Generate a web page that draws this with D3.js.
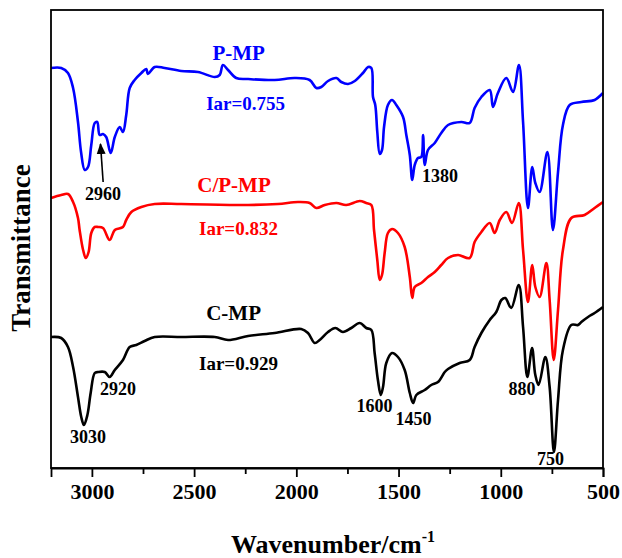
<!DOCTYPE html>
<html>
<head>
<meta charset="utf-8">
<script src="https://cdn.jsdelivr.net/npm/d3@7"></script>
<style>
  body { margin: 0; background: #fff; }
  svg text { font-family: "Liberation Serif", "Times New Roman", serif; font-weight: bold; }
</style>
</head>
<body>
<svg id="chart" width="622" height="558"></svg>
<script>
const margin = {top: 10, right: 19, bottom: 90, left: 51};

// [wavenumber, transmittance (a.u., offset stacked)]
const pmp = [
  [3200,40.0],[3150,40.0],[3117,39.5],[3092,38.0],[3068,34.6],[3053,31.6],[3035,29.8],[3019,30.1],
  [3003,32.3],[2986,34.5],[2974,34.6],[2962,33.3],[2946,33.4],[2930,33.1],[2908,31.5],[2888,33.1],
  [2864,34.1],[2848,33.6],[2832,35.3],[2815,38.0],[2791,38.8],[2758,39.5],[2734,39.9],[2726,39.4],
  [2693,40.1],[2644,40.0],[2563,39.7],[2481,39.6],[2399,39.1],[2375,39.3],[2359,40.3],[2334,39.8],
  [2294,39.0],[2236,38.9],[2106,38.8],[2008,39.0],[1935,38.8],[1902,38.0],[1878,38.1],[1845,38.7],
  [1804,39.0],[1780,38.6],[1747,38.4],[1714,38.7],[1674,39.5],[1649,40.1],[1633,40.0],[1625,37.1],
  [1614,36.3],[1604,33.6],[1592,31.4],[1581,31.8],[1571,34.1],[1552,36.3],[1532,36.8],[1511,36.3],
  [1478,35.1],[1462,33.3],[1445,31.3],[1433,28.8],[1421,30.3],[1405,31.0],[1389,31.1],[1380,33.3],
  [1372,30.3],[1356,31.8],[1323,32.5],[1291,33.5],[1258,34.3],[1193,34.6],[1152,34.5],[1128,36.0],
  [1095,37.1],[1054,37.8],[1038,36.1],[1014,37.5],[973,39.0],[940,37.6],[911,40.3],[891,34.6],
  [867,26.0],[846,30.1],[831,28.5],[810,27.6],[772,31.6],[745,23.8],[720,29.6],[696,34.3],
  [663,36.3],[606,36.6],[541,36.8],[500,37.5]
];

const cpmp = [
  [3200,27.0],[3150,27.3],[3117,27.4],[3092,26.6],[3068,25.0],[3060,23.8],[3043,21.8],[3030,21.0],
  [3016,21.6],[3003,23.5],[2986,24.1],[2970,24.1],[2946,24.0],[2913,22.8],[2888,23.8],[2848,24.1],
  [2832,24.8],[2807,25.6],[2758,26.1],[2693,26.4],[2563,26.4],[2236,26.3],[2090,26.4],[1992,26.6],
  [1935,26.5],[1902,26.0],[1861,26.3],[1804,26.5],[1756,26.3],[1690,26.7],[1658,26.5],[1633,26.3],
  [1620,23.8],[1604,20.8],[1592,18.8],[1581,19.3],[1568,21.5],[1552,23.5],[1532,23.9],[1503,23.5],
  [1470,22.1],[1445,19.1],[1433,17.0],[1421,18.1],[1389,18.5],[1356,19.1],[1323,19.6],[1291,20.3],
  [1258,21.0],[1209,21.3],[1152,21.0],[1128,22.6],[1095,23.6],[1054,24.5],[1030,23.5],[1005,24.8],
  [973,25.6],[945,24.5],[912,26.5],[891,21.8],[867,16.6],[846,20.3],[831,18.1],[810,17.1],
  [777,20.5],[761,16.8],[741,10.8],[720,15.8],[696,21.8],[655,25.0],[590,25.3],[541,26.0],[500,26.6]
];

const cmp = [
  [3200,13.1],[3150,13.0],[3117,12.1],[3092,10.1],[3068,7.1],[3052,5.1],[3039,4.3],[3022,5.3],
  [3006,7.5],[2986,9.5],[2970,9.6],[2937,9.6],[2913,9.1],[2888,9.8],[2848,10.8],[2815,12.1],
  [2783,12.3],[2742,12.7],[2693,13.1],[2563,13.1],[2399,13.1],[2334,12.8],[2236,13.2],[2106,13.5],
  [1976,13.9],[1943,13.5],[1910,12.5],[1886,12.8],[1845,13.6],[1809,14.0],[1772,13.6],[1731,14.0],
  [1690,14.5],[1658,14.0],[1633,13.8],[1617,11.5],[1601,8.8],[1587,7.3],[1576,8.1],[1560,10.5],
  [1532,11.5],[1503,11.1],[1470,9.8],[1445,7.5],[1429,6.5],[1413,7.3],[1372,7.8],[1340,8.3],
  [1307,8.6],[1274,9.6],[1258,9.9],[1201,10.5],[1152,10.8],[1128,12.1],[1095,13.5],[1054,14.8],
  [1022,15.6],[997,16.8],[978,17.0],[949,16.0],[912,18.3],[891,14.1],[870,9.1],[847,12.0],
  [831,9.3],[815,8.3],[782,11.1],[761,8.1],[740,1.6],[720,6.8],[696,11.8],[655,14.3],
  [622,14.3],[606,14.6],[573,15.1],[541,15.5],[500,16.1]
];

const xDomain = [3200, 500];
const yDomain = [0, 45.8];
const majorTicks = [3000, 2500, 2000, 1500, 1000, 500];
const minorTicks = [2750, 2250, 1750, 1250, 750];

const series = [
  {name: "P-MP", iar: "Iar=0.755", color: "#0000ff", data: pmp, lx: 2282, ly: 40.8, ix: 2248, iy: 35.8},
  {name: "C/P-MP", iar: "Iar=0.832", color: "#ff0000", data: cpmp, lx: 2305, ly: 27.6, ix: 2283, iy: 23.3},
  {name: "C-MP", iar: "Iar=0.929", color: "#000000", data: cmp, lx: 2307, ly: 14.8, ix: 2283, iy: 9.8}
];

// peak labels: [text, wavenumber at label centre, baseline value]
const peaks = [
  ["2960", 2946, 26.8],
  ["1380", 1297, 28.6],
  ["2920", 2872, 7.3],
  ["3030", 3019, 2.5],
  ["1600", 1618, 5.6],
  ["1450", 1427, 4.3],
  ["880", 896, 7.3],
  ["750", 757, 0.3]
];

var width, height, x, y, chart;

function initRange() {
  width = 622 - margin.left - margin.right;
  height = 558 - margin.top - margin.bottom;
  x = d3.scaleLinear().domain(xDomain).range([0, width]);
  y = d3.scaleLinear().domain(yDomain).range([height, 0]);
}

function drawGraph() {
  const svg = d3.select('#chart');
  svg.selectAll("*").remove();
  chart = svg.append('g')
    .attr('transform', 'translate(' + margin.left + ',' + margin.top + ')');

  const line = d3.line()
    .x(d => x(d[0]))
    .y(d => y(d[1]))
    .curve(d3.curveCatmullRom.alpha(0.5));

  chart.selectAll('path.spec')
    .data(series).enter()
    .append('path')
    .attr('class', 'spec')
    .attr('fill', 'none')
    .attr('stroke', d => d.color)
    .attr('stroke-width', 2.6)
    .attr('stroke-linejoin', 'round')
    .attr('d', d => line(d.data));

  // frame
  chart.append('rect')
    .attr('width', width).attr('height', height)
    .attr('fill', 'none').attr('stroke', '#000').attr('stroke-width', 1.8);

  // x axis, major + minor ticks
  const xAxis = d3.axisBottom(x).tickValues(majorTicks).tickSize(9).tickPadding(6).tickFormat(d3.format('d'));
  const gx = chart.append('g').attr('transform', 'translate(0,' + height + ')').call(xAxis);
  gx.select('.domain').attr('stroke-width', 1.8);
  gx.selectAll('.tick line').attr('stroke-width', 1.8);
  gx.selectAll('.tick text').attr('font-size', 22).attr('fill', '#000')
    .style('font-family', '"Liberation Serif", serif').style('font-weight', 'bold');

  const xMinor = d3.axisBottom(x).tickValues(minorTicks).tickSize(6).tickFormat('');
  const gm = chart.append('g').attr('transform', 'translate(0,' + height + ')').call(xMinor);
  gm.select('.domain').remove();
  gm.selectAll('.tick line').attr('stroke-width', 1.8);

  // axis titles
  const xt = chart.append('text')
    .attr('x', 282).attr('y', 543)
    .attr('text-anchor', 'middle').attr('font-size', 26);
  xt.append('tspan').text('Wavenumber/cm');
  xt.append('tspan').attr('font-size', 16).attr('dy', -11).text('-1');

  chart.append('text')
    .attr('transform', 'translate(-21,' + (248 - margin.top) + ') rotate(-90)')
    .attr('text-anchor', 'middle').attr('font-size', 27)
    .text('Transmittance');

  // series names and Iar values
  chart.selectAll('text.name')
    .data(series).enter()
    .append('text')
    .attr('class', 'name')
    .attr('x', d => x(d.lx)).attr('y', d => y(d.ly))
    .attr('text-anchor', 'middle').attr('font-size', 21)
    .attr('fill', d => d.color)
    .text(d => d.name);

  chart.selectAll('text.iar')
    .data(series).enter()
    .append('text')
    .attr('class', 'iar')
    .attr('x', d => x(d.ix)).attr('y', d => y(d.iy))
    .attr('text-anchor', 'middle').attr('font-size', 19)
    .attr('fill', d => d.color)
    .text(d => d.iar);

  // peak labels
  chart.selectAll('text.peak')
    .data(peaks).enter()
    .append('text')
    .attr('class', 'peak')
    .attr('x', d => x(d[1])).attr('y', d => y(d[2]))
    .attr('text-anchor', 'middle').attr('font-size', 18)
    .attr('fill', '#000')
    .text(d => d[0]);

  // arrow pointing at the 2960 shoulder
  svg.append('defs').append('marker')
    .attr('id', 'head').attr('viewBox', '0 0 10 10')
    .attr('refX', 9).attr('refY', 5)
    .attr('markerWidth', 7).attr('markerHeight', 7)
    .attr('orient', 'auto')
    .append('path').attr('d', 'M0,1 L10,5 L0,9 Z').attr('fill', '#000');

  chart.append('line')
    .attr('x1', x(2945)).attr('y1', y(28.6))
    .attr('x2', x(2958)).attr('y2', y(32.4))
    .attr('stroke', '#000').attr('stroke-width', 1.6)
    .attr('marker-end', 'url(#head)');
}

initRange();
drawGraph();
</script>
</body>
</html>
